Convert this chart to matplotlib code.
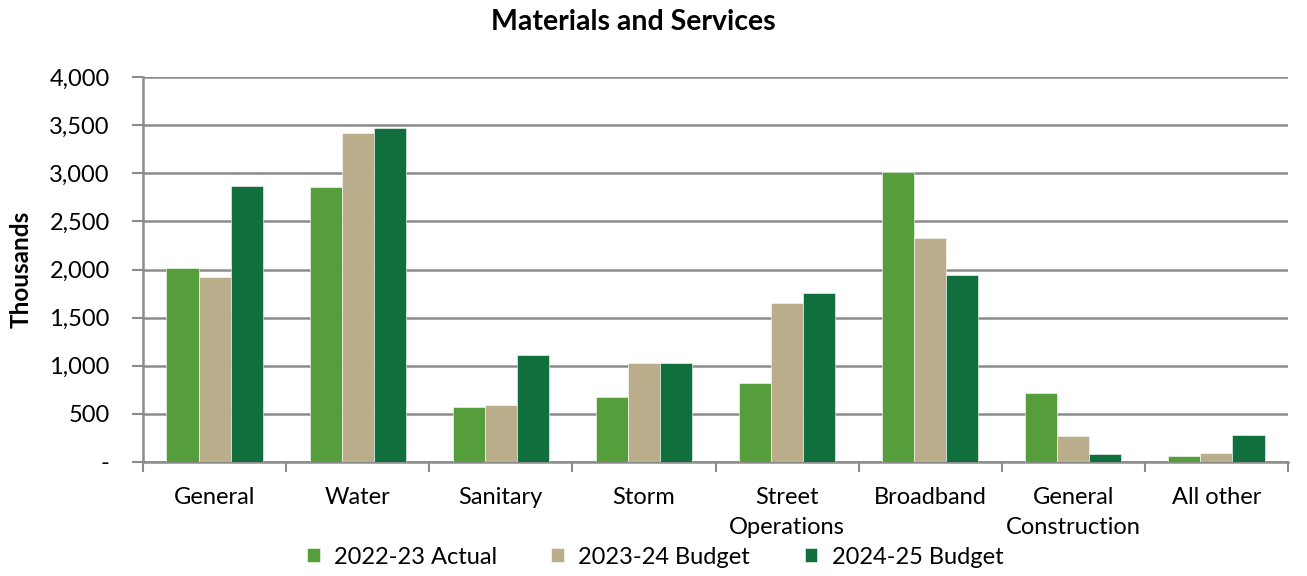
import matplotlib.pyplot as plt
import numpy as np
from matplotlib.ticker import FuncFormatter, FixedLocator

plt.rcParams['font.family'] = ['Lato', 'DejaVu Sans']

categories = ["General", "Water", "Sanitary", "Storm", "Street\nOperations",
              "Broadband", "General\nConstruction", "All other"]
actual_2223 = [2020, 2860, 575, 680, 825, 3015, 715, 65]
budget_2324 = [1920, 3415, 590, 1030, 1655, 2330, 265, 90]
budget_2425 = [2870, 3465, 1110, 1030, 1760, 1940, 80, 285]
series_names = ["2022-23 Actual", "2023-24 Budget", "2024-25 Budget"]
colors = ["#559e3b", "#baad8c", "#116f3e"]

fig = plt.figure(figsize=(13.07, 5.76), dpi=100)
ax = fig.add_axes([143 / 1307, 1 - 462 / 576, 1145 / 1307, 385 / 576])

x = np.arange(len(categories))
w = 0.224
for i, (vals, name, c) in enumerate(zip([actual_2223, budget_2324, budget_2425], series_names, colors)):
    ax.bar(x + (i - 1) * w, vals, width=w, color=c, label=name, zorder=3,
           edgecolor="white", linewidth=0.4)

ax.set_xlim(-0.5, len(categories) - 0.5)
ax.set_ylim(0, 4000)
ax.set_yticks(np.arange(0, 4001, 500))
ax.yaxis.set_major_formatter(FuncFormatter(lambda v, p: "-" if v == 0 else f"{v:,.0f}"))
ax.grid(axis="y", color="#8c8c8c", linewidth=1.8, zorder=0)

# category labels centred in each slot, ticks on slot boundaries
ax.xaxis.set_major_locator(FixedLocator(np.arange(-0.5, len(categories), 1)))
ax.xaxis.set_major_formatter(FuncFormatter(lambda v, p: ""))
ax.xaxis.set_minor_locator(FixedLocator(x))
ax.set_xticklabels(categories, minor=True, fontsize=17, va="top", linespacing=1.5)
ax.tick_params(axis="x", which="minor", length=0, pad=18)
ax.tick_params(axis="x", which="major", length=7, width=1.5, color="#8c8c8c", direction="out")
ax.tick_params(axis="y", length=8, width=1.5, color="#8c8c8c", direction="out", labelsize=17, pad=16)

for s in ["top", "right"]:
    ax.spines[s].set_visible(False)
for s in ["left", "bottom"]:
    ax.spines[s].set_color("#8c8c8c")
    ax.spines[s].set_linewidth(1.8)

ax.set_ylabel("Thousands", fontsize=17.5, fontweight="bold", labelpad=12)
fig.text(633 / 1307, 1 - 22 / 576, "Materials and Services", ha="center", va="center",
         fontsize=20.5, fontweight="bold")

fig.legend(loc="center", bbox_to_anchor=(655 / 1307, 1 - 557 / 576), ncol=3, frameon=False,
           fontsize=17, handlelength=0.55, handleheight=0.55, columnspacing=2.3, handletextpad=0.6)

fig.savefig("out.png", dpi=100)
